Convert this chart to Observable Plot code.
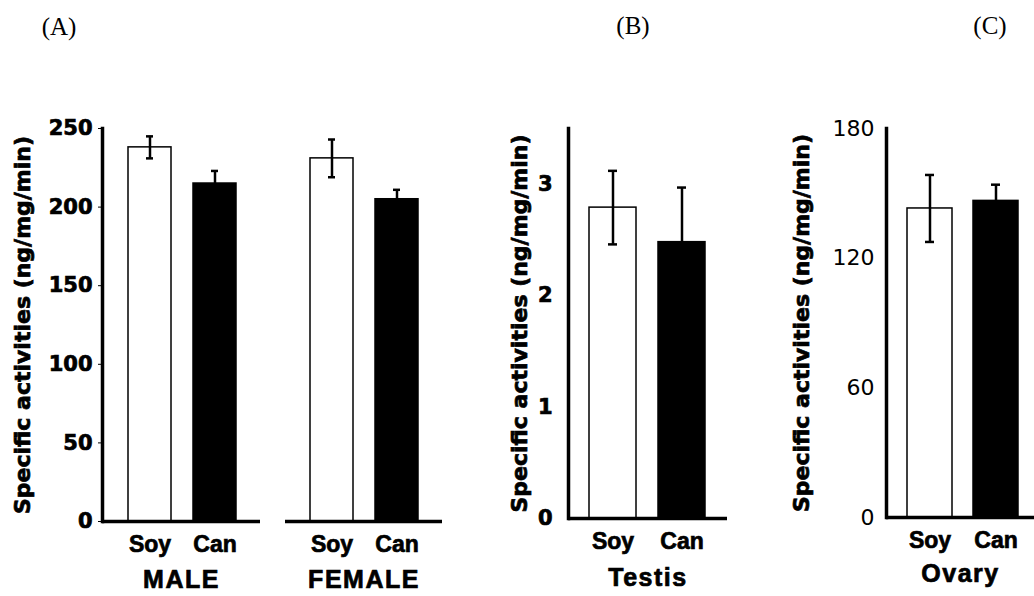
<!DOCTYPE html>
<html>
<head>
<meta charset="utf-8">
<script src="https://cdn.jsdelivr.net/npm/d3@7"></script>
<script src="https://cdn.jsdelivr.net/npm/@observablehq/plot@0.6"></script>
<style>
  body { margin: 0; background: #fff; }
  #chart { position: relative; width: 1034px; height: 596px; overflow: hidden; background: #fff; }
  #chart svg { position: absolute; top: 0; overflow: visible; background: transparent; }
  .letter { position: absolute; font-family: "Liberation Serif", serif; font-size: 25px; line-height: 1; transform: translate(-50%, -50%); color: #000; }
  #chart svg text { font-weight: bold; fill: #000; stroke: #000; stroke-width: 0.7px; }
  #chart svg g[aria-label="y-axis tick label"] text { font-family: "DejaVu Sans", sans-serif; font-size: 21px; }
  #chart svg.light g[aria-label="y-axis tick label"] text { font-weight: normal; font-size: 22px; stroke: none; }
  #chart svg g[aria-label="y-axis label"] text { font-family: "DejaVu Sans", sans-serif; font-size: 22px; }
  #chart svg g[aria-label="x-axis tick label"] text { font-family: "Liberation Sans", sans-serif; font-size: 23px; }
  #chart svg g[aria-label="fx-axis tick label"] text { font-family: "Liberation Sans", sans-serif; font-size: 25px; letter-spacing: 1.5px; }
</style>
</head>
<body>
<div id="chart"></div>
<script>
// ---- data ----
const diets = ["Soy", "Can"];
const yLabel = "Specific activities (ng/mg/min)";
const panelLetters = ["(A)", "(B)", "(C)"];

const maleValues = [238, 215];
const maleErrors = [7, 8];
const femaleValues = [231, 205];
const femaleErrors = [12, 6];
const testisValues = [2.79, 2.48];
const testisErrors = [0.33, 0.49];
const ovaryValues = [143, 146.5];
const ovaryErrors = [15.5, 7.5];

const yTicksA = [0, 50, 100, 150, 200, 250];
const yTicksB = [0, 1, 2, 3];
const yTicksC = [0, 60, 120, 180];

function rows(group, values, errors) {
  return diets.map((d, i) => ({group, diet: d, value: values[i], error: errors[i]}));
}

function panel(cfg) {
  const data = cfg.data;
  const marks = [
    Plot.barY(data, {fx: "group", x: "diet", y: "value", fill: "diet", stroke: "black", strokeWidth: 1.5}),
    Plot.ruleY([0], {strokeWidth: 3.5}),
    Plot.ruleX(data, {fx: "group", x: "diet", y1: d => d.value - d.error, y2: d => d.value + d.error, strokeWidth: 2.5}),
    Plot.tickY(data, {fx: "group", x: "diet", y: d => d.value + d.error, strokeWidth: 2.5, insetLeft: cfg.cap, insetRight: cfg.cap}),
    Plot.tickY(data, {fx: "group", x: "diet", y: d => d.value - d.error, strokeWidth: 2.5, insetLeft: cfg.cap, insetRight: cfg.cap}),
    Plot.axisX({tickSize: 0, tickPadding: 14, fontSize: 23, fontWeight: "bold", label: null}),
    Plot.axisFx({anchor: "bottom", tickSize: 0, tickPadding: cfg.groupPad, fontSize: 25, fontWeight: "bold", label: null})
  ];
  if (cfg.yAxis) {
    marks.push(
      Plot.axisY({
        ticks: cfg.yTicks, tickFormat: d => String(d),
        tickSize: cfg.yAxis.tickSize, tickPadding: cfg.yAxis.tickPadding,
        fontSize: 21, fontWeight: "bold",
        label: yLabel, labelAnchor: "center", labelOffset: cfg.yAxis.labelOffset, labelArrow: "none"
      }),
      Plot.frame({anchor: "left", strokeWidth: 3.5})
    );
  }
  const svg = Plot.plot({
    width: cfg.width,
    height: 596,
    marginLeft: cfg.marginLeft,
    marginRight: cfg.marginRight,
    marginTop: 128,
    marginBottom: cfg.marginBottom,
    style: {background: "transparent", color: "black"},
    x: {domain: diets, paddingInner: cfg.pad[0], paddingOuter: cfg.pad[1], align: cfg.pad[2], axis: null},
    fx: {domain: [data[0].group], padding: 0},
    y: {domain: cfg.yDomain, axis: null},
    color: {domain: diets, range: ["white", "black"]},
    marks
  });
  svg.style.left = cfg.left + "px";
  if (cfg.light) svg.classList.add("light");
  document.getElementById("chart").appendChild(svg);
}

panel({
  data: rows("MALE", maleValues, maleErrors), yDomain: [0, 250], yTicks: yTicksA,
  yAxis: {tickSize: 4, tickPadding: 6, labelOffset: 88}, groupPad: 49,
  left: 0, width: 262, marginLeft: 102, marginRight: 2, marginBottom: 75,
  pad: [0.333, 0.364, 0.52], cap: 18
});
panel({
  data: rows("FEMALE", femaleValues, femaleErrors), yDomain: [0, 250], yTicks: yTicksA,
  yAxis: null, groupPad: 49,
  left: 270, width: 174, marginLeft: 15, marginRight: 2, marginBottom: 75,
  pad: [0.333, 0.364, 0.52], cap: 18
});
panel({
  data: rows("Testis", testisValues, testisErrors), yDomain: [0, 3.5], yTicks: yTicksB,
  yAxis: {tickSize: 0, tickPadding: 16, labelOffset: 57}, groupPad: 50,
  left: 450, width: 279, marginLeft: 118, marginRight: 2, marginBottom: 78,
  pad: [0.326, 0.315, 0.48], cap: 19
});
panel({
  data: rows("Ovary", ovaryValues, ovaryErrors), yDomain: [0, 180], yTicks: yTicksC,
  yAxis: {tickSize: 0, tickPadding: 12, labelOffset: 93}, light: true, groupPad: 47,
  left: 760, width: 274, marginLeft: 126, marginRight: 0, marginBottom: 79,
  pad: [0.318, 0.28, 0.57], cap: 18
});

const letterPos = [[59, 26], [633, 25], [990, 25]];
panelLetters.forEach((t, i) => {
  const div = document.createElement("div");
  div.className = "letter";
  div.textContent = t;
  div.style.left = letterPos[i][0] + "px";
  div.style.top = letterPos[i][1] + "px";
  document.getElementById("chart").appendChild(div);
});
</script>
</body>
</html>
